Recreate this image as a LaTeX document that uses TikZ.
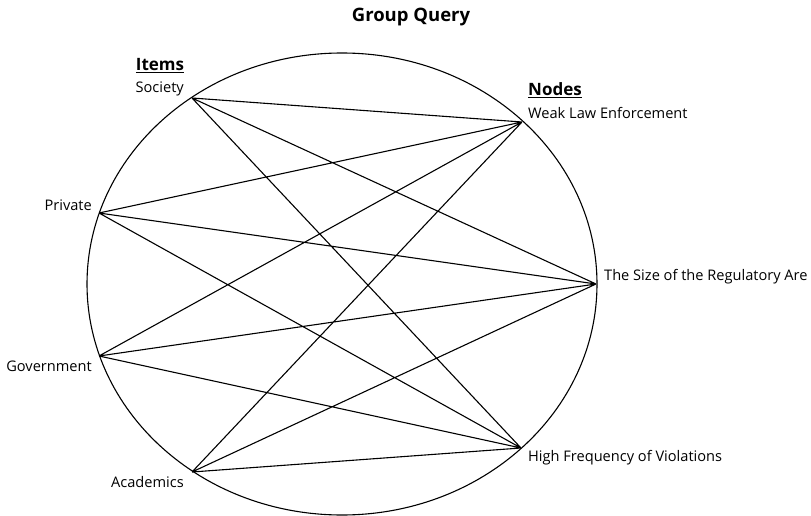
\documentclass[tikz,border=0pt]{standalone}
\usepackage{fontspec}
\setmainfont{Open Sans}
\usepackage{tikz}

\begin{document}
\begin{tikzpicture}[x=1pt,y=-1pt,
    pt/.style={inner sep=0pt,minimum size=0pt},
    lbl/.style={font=\fontsize{14.6}{17}\selectfont,inner sep=0pt},
    head/.style={font=\fontsize{17}{20}\selectfont\bfseries,inner sep=0pt}]
        \useasboundingbox (0,0) rectangle (811,516);
        \node[head,font=\fontsize{18.5}{22}\selectfont\bfseries] (title) at (411,17) {Group Query};
        \draw[line width=1.1pt] (342,284) ellipse [x radius=255, y radius=231];
        % items
        \node[pt] (soc) at (192,98) {};
        \node[pt] (pri) at (99,213) {};
        \node[pt] (gov) at (99,356) {};
        \node[pt] (aca) at (192,472) {};
        % nodes
        \node[pt] (wle) at (522,122) {};
        \node[pt] (size) at (596,284) {};
        \node[pt] (hfv) at (521,448) {};
        \node[head] (items) at (160,66) {\underline{Items}};
        \node[lbl,anchor=east] (socl) at (184,89) {Society};
        \node[lbl,anchor=east] (pril) at (92,205) {Private};
        \node[lbl,anchor=east] (govl) at (92,366) {Government};
        \node[lbl,anchor=east] (acal) at (184,482) {Academics};
        \node[head,anchor=west] (nodes) at (528,90) {\underline{Nodes}};
        \node[lbl,anchor=west] (wlel) at (528,113) {Weak Law Enforcement};
        \node[lbl,anchor=west] (sizel) at (604,277) {The Size of the Regulatory Are};
        \node[lbl,anchor=west] (hfvl) at (528,458) {High Frequency of Violations};
        \draw[line width=1.1pt] (soc) -- (wle) (soc) -- (size) (soc) -- (hfv)
        (pri) -- (wle) (pri) -- (size) (pri) -- (hfv)
        (gov) -- (wle) (gov) -- (size) (gov) -- (hfv)
        (aca) -- (wle) (aca) -- (size) (aca) -- (hfv);
    \end{tikzpicture}
\end{document}
